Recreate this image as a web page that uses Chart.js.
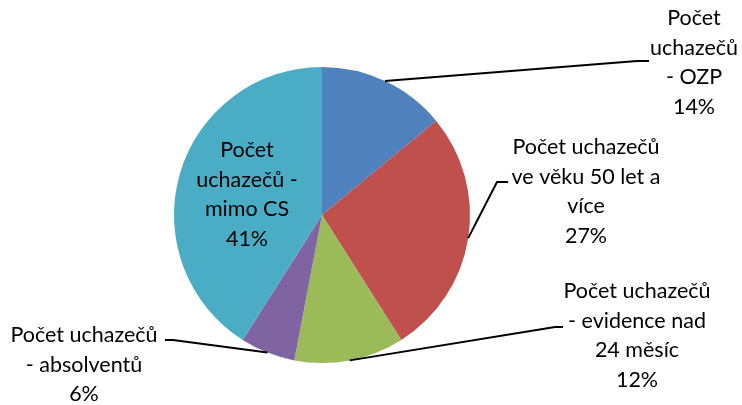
<!DOCTYPE html>
<html>
<head>
<meta charset="utf-8">
<script src="https://cdn.jsdelivr.net/npm/chart.js@4"></script>
<style>
  html, body { margin: 0; padding: 0; background: #fff; }
  #c { display: block; }
</style>
</head>
<body>
<canvas id="c" width="742" height="405"></canvas>
<script>
// ---- data ----
const categories = [
  "Počet uchazečů - OZP",
  "Počet uchazečů ve věku 50 let a více",
  "Počet uchazečů - evidence nad 24 měsíc",
  "Počet uchazečů - absolventů",
  "Počet uchazečů - mimo CS"
];
const shares = [14, 27, 12, 6, 41];
const labelLines = [
  ["Počet", "uchazečů", "- OZP"],
  ["Počet uchazečů", "ve věku 50 let a", "více"],
  ["Počet uchazečů", "- evidence nad", "24 měsíc"],
  ["Počet uchazečů", "- absolventů"],
  ["Počet", "uchazečů -", "mimo CS"]
];
const colors = ["#4F81BD", "#C0504D", "#9BBB59", "#8064A2", "#4BACC6"];

// ---- label layout (offsets from pie centre, px) ----
const labelLayout = [
  { x: 372, y: -197, elbow: [315, -154], end: [327, -154] },
  { x: 264, y: -68,  elbow: [175, -33],  end: [186, -33] },
  { x: 315, y: 76,   elbow: [233, 112],  end: [241, 112] },
  { x: -238, y: 120, elbow: [-149, 125], end: [-157, 125] },
  { x: -75, y: -65,  elbow: null, end: null }
];
const FONT = '21.5px Lato, "Open Sans", sans-serif';
const LINE_H = 29.7;

const labelPlugin = {
  id: 'pieLabels',
  afterDatasetsDraw(chart) {
    const ctx = chart.ctx;
    const meta = chart.getDatasetMeta(0);
    const total = shares.reduce((a, b) => a + b, 0);
    ctx.save();
    meta.data.forEach((arc, i) => {
      const p = arc.getProps(['x', 'y', 'startAngle', 'endAngle', 'outerRadius'], true);
      const cx = p.x, cy = p.y;
      const mid = (p.startAngle + p.endAngle) / 2;
      const L = labelLayout[i];
      if (L.elbow) {
        const sx = cx + Math.cos(mid) * p.outerRadius;
        const sy = cy + Math.sin(mid) * p.outerRadius;
        ctx.beginPath();
        ctx.moveTo(sx, sy);
        ctx.lineTo(cx + L.elbow[0], cy + L.elbow[1]);
        ctx.lineTo(cx + L.end[0], cy + L.end[1]);
        ctx.strokeStyle = '#000';
        ctx.lineWidth = 2;
        ctx.stroke();
      }
      const pct = Math.round(shares[i] / total * 100) + '%';
      const lines = labelLines[i].concat([pct]);
      ctx.font = FONT;
      ctx.fillStyle = '#000';
      ctx.textAlign = 'center';
      ctx.textBaseline = 'middle';
      lines.forEach((t, k) => {
        ctx.fillText(t, cx + L.x, cy + L.y + k * LINE_H);
      });
    });
    ctx.restore();
  }
};

new Chart(document.getElementById('c'), {
  type: 'pie',
  data: {
    labels: categories,
    datasets: [{
      data: shares,
      backgroundColor: colors,
      borderWidth: 0
    }]
  },
  options: {
    responsive: false,
    devicePixelRatio: 1,
    animation: false,
    layout: { padding: { left: 174, right: 272, top: 67, bottom: 42 } },
    plugins: {
      legend: { display: false },
      tooltip: { enabled: false },
      title: { display: false }
    }
  },
  plugins: [labelPlugin]
});
</script>
</body>
</html>
